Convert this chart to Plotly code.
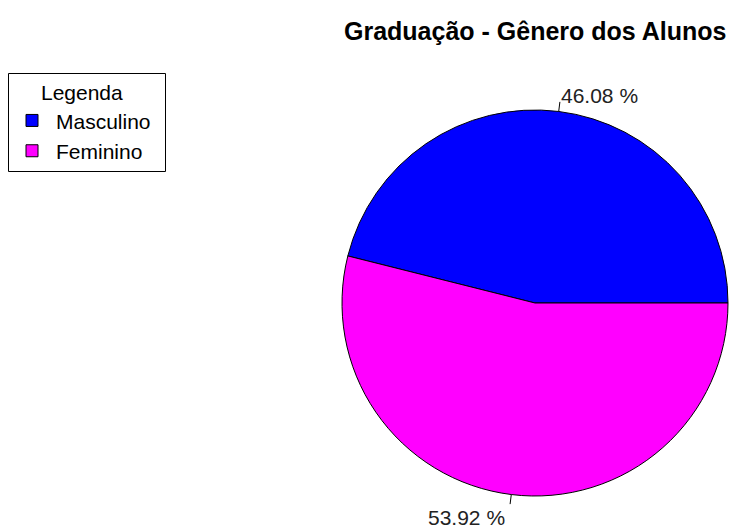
import math
import plotly.graph_objects as go

labels = ["Masculino", "Feminino"]
values = [46.08, 53.92]
colors = ["#0000FF", "#FF00FF"]
title_text = "Graduação - Gênero dos Alunos"
legend_title = "Legenda"

W, H = 730, 528
cx, cy, r = 535, 303, 193  # pixel center and radius
FONT = "Liberation Sans, Arial, sans-serif"

total = sum(values)
# R pie: first slice starts at 3 o'clock and goes counterclockwise.
# Plotly (ccw): first slice lies clockwise of the rotation line.
rotation = 90 - 360 * values[0] / total

fig = go.Figure()
fig.add_trace(go.Pie(
    labels=labels, values=values, sort=False,
    direction="counterclockwise", rotation=rotation,
    marker=dict(colors=colors, line=dict(color="black", width=1)),
    textinfo="none", hoverinfo="label+percent",
    domain=dict(x=[(cx - r) / W, (cx + r) / W], y=[(H - cy - r) / H, (H - cy + r) / H]),
))

# R-style labels with short tick lines at slice midpoints
start = 0.0
shapes, annotations = [], []
for v in values:
    frac = v / total
    mid = (start + frac / 2) * 2 * math.pi
    start += frac
    c, s = math.cos(mid), math.sin(mid)
    x0, y0 = cx + r * c, cy - r * s
    x1, y1 = cx + 1.05 * r * c, cy - 1.05 * r * s
    shapes.append(dict(type="line", xref="paper", yref="paper",
                       x0=x0 / W, y0=1 - y0 / H, x1=x1 / W, y1=1 - y1 / H,
                       line=dict(color="black", width=1)))
    lx, ly = cx + 1.1 * r * c, cy - 1.1 * r * s
    annotations.append(dict(xref="paper", yref="paper", x=lx / W, y=1 - ly / H,
                            text=f"{v:.2f} %", showarrow=False,
                            xanchor="left" if c > 0 else "right", yanchor="middle",
                            xshift=-2, yshift=-3.5,
                            font=dict(size=21, color="#222222", family=FONT)))

annotations.append(dict(xref="paper", yref="paper", x=cx / W, y=1 - 31 / H,
                        text=f"<b>{title_text}</b>", showarrow=False,
                        xanchor="center", yanchor="middle",
                        font=dict(size=25, color="black", family=FONT)))

# legend frame (R legend box)
shapes.append(dict(type="rect", xref="paper", yref="paper",
                   x0=8.5 / W, x1=165.5 / W, y0=1 - 171.5 / H, y1=1 - 73.5 / H,
                   line=dict(color="black", width=1), fillcolor="rgba(0,0,0,0)"))

fig.update_layout(
    width=W, height=H,
    margin=dict(l=0, r=0, t=0, b=0),
    paper_bgcolor="white", plot_bgcolor="white",
    shapes=shapes, annotations=annotations,
    showlegend=True,
    legend=dict(
        x=8 / W, y=1 - 73 / H, xanchor="left", yanchor="top",
        borderwidth=0, bgcolor="rgba(0,0,0,0)",
        title=dict(text=legend_title, side="top center",
                   font=dict(size=21, family=FONT, color="black")),
        font=dict(size=21, family=FONT, color="black"),
        itemwidth=38,
        tracegroupgap=0,
    ),
)

fig.write_html(
    "out.html",
    config={"displayModeBar": False},
    post_script="document.body.style.margin='0px';document.body.style.overflow='hidden';",
)
